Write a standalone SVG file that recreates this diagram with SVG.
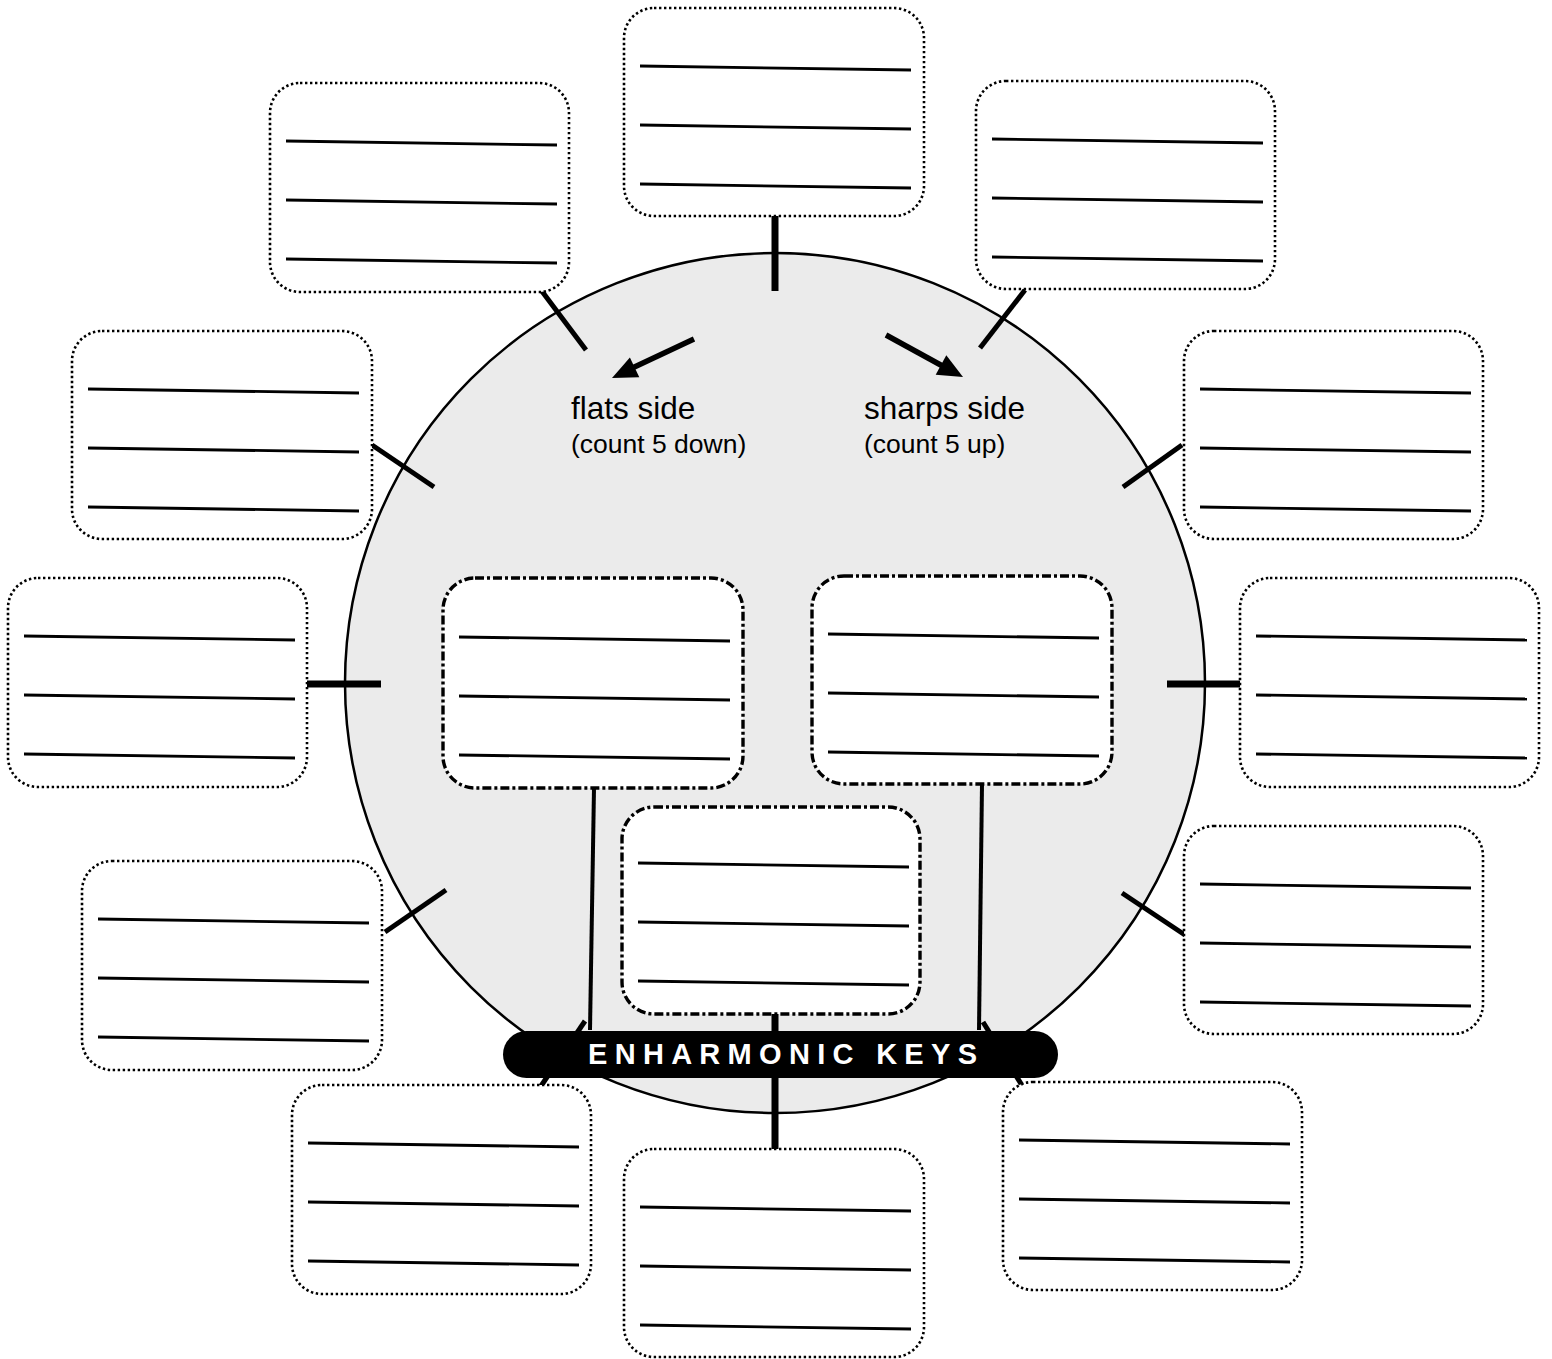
<svg xmlns="http://www.w3.org/2000/svg" width="1552" height="1359" viewBox="0 0 1552 1359">
<defs>
<style>
.box{fill:#fff;stroke:#000;stroke-width:2.6;stroke-dasharray:2.4 2.6;}
.inner{fill:#fff;stroke:#000;stroke-width:3.4;stroke-dasharray:9 3 3 3;}
.ln{stroke:#000;stroke-width:2.8;fill:none;}
.tick{stroke:#000;stroke-width:7;fill:none;}
.dtick{stroke:#000;stroke-width:5;fill:none;}
.conn{stroke:#000;stroke-width:4;fill:none;}
.arr{stroke:#000;stroke-width:5.5;fill:none;}
.t1{font-family:"Liberation Sans",Arial,sans-serif;font-size:31.5px;fill:#000;}
.t2{font-family:"Liberation Sans",Arial,sans-serif;font-size:26.5px;fill:#000;}
.pt{font-family:"Liberation Sans",Arial,sans-serif;font-size:29px;font-weight:bold;fill:#fff;letter-spacing:7.3px;}
</style>
<g id="lines3">
<line class="ln" x1="16" y1="58" x2="287" y2="62"/>
<line class="ln" x1="16" y1="117" x2="287" y2="121"/>
<line class="ln" x1="16" y1="176" x2="287" y2="180"/>
</g>
</defs>
<rect width="1552" height="1359" fill="#fff"/>
<g id="circle">
<circle cx="775" cy="683" r="430" fill="#ebebeb" stroke="#000" stroke-width="2.5"/>
</g>
<g id="connectors">
<line class="tick" x1="775" y1="216" x2="775" y2="291"/>
<line class="tick" x1="307" y1="684" x2="381" y2="684"/>
<line class="tick" x1="1167" y1="684" x2="1241" y2="684"/>
<line class="tick" x1="775" y1="1014" x2="775" y2="1152"/>
<line class="dtick" x1="541" y1="290" x2="586" y2="350"/>
<line class="dtick" x1="1025" y1="290" x2="980" y2="348"/>
<line class="dtick" x1="372" y1="445" x2="434" y2="487"/>
<line class="dtick" x1="1182" y1="445" x2="1123" y2="487"/>
<line class="dtick" x1="385" y1="932" x2="446" y2="890"/>
<line class="dtick" x1="1122" y1="893" x2="1185" y2="935"/>
<line class="dtick" x1="585" y1="1021" x2="541" y2="1086"/>
<line class="dtick" x1="983" y1="1022" x2="1023" y2="1087"/>
<line class="conn" x1="594" y1="788" x2="590" y2="1030"/>
<line class="conn" x1="982" y1="784" x2="979" y2="1030"/>
</g>
<g id="box-top" transform="translate(624,8)"><rect class="box" x="0" y="0" width="300" height="208" rx="30"/><use href="#lines3"/></g>
<g id="box-top-left" transform="translate(270,83)"><rect class="box" x="0" y="0" width="299" height="209" rx="30"/><use href="#lines3"/></g>
<g id="box-top-right" transform="translate(976,81)"><rect class="box" x="0" y="0" width="299" height="208" rx="30"/><use href="#lines3"/></g>
<g id="box-left-upper" transform="translate(72,331)"><rect class="box" x="0" y="0" width="300" height="208" rx="30"/><use href="#lines3"/></g>
<g id="box-right-upper" transform="translate(1184,331)"><rect class="box" x="0" y="0" width="299" height="208" rx="30"/><use href="#lines3"/></g>
<g id="box-left" transform="translate(8,578)"><rect class="box" x="0" y="0" width="299" height="209" rx="30"/><use href="#lines3"/></g>
<g id="box-right" transform="translate(1240,578)"><rect class="box" x="0" y="0" width="299" height="209" rx="30"/><use href="#lines3"/></g>
<g id="box-left-lower" transform="translate(82,861)"><rect class="box" x="0" y="0" width="300" height="209" rx="30"/><use href="#lines3"/></g>
<g id="box-right-lower" transform="translate(1184,826)"><rect class="box" x="0" y="0" width="299" height="208" rx="30"/><use href="#lines3"/></g>
<g id="box-bottom-left" transform="translate(292,1085)"><rect class="box" x="0" y="0" width="299" height="209" rx="30"/><use href="#lines3"/></g>
<g id="box-bottom" transform="translate(624,1149)"><rect class="box" x="0" y="0" width="300" height="208" rx="30"/><use href="#lines3"/></g>
<g id="box-bottom-right" transform="translate(1003,1082)"><rect class="box" x="0" y="0" width="299" height="208" rx="30"/><use href="#lines3"/></g>
<g id="inner-left" transform="translate(443,578)"><rect class="inner" x="0" y="0" width="300" height="210" rx="32"/><use href="#lines3" transform="translate(0,1)"/></g>
<g id="inner-right" transform="translate(812,576)"><rect class="inner" x="0" y="0" width="300" height="208" rx="32"/><use href="#lines3"/></g>
<g id="inner-center" transform="translate(622,807)"><rect class="inner" x="0" y="0" width="298" height="207" rx="32"/><use href="#lines3" transform="translate(0,-2)"/></g>
<g id="flats">
<line class="arr" x1="694" y1="339" x2="628" y2="370"/>
<polygon points="612,378 629.9,357.4 639.3,377.2" fill="#000"/>
<text class="t1" x="571" y="419">flats side</text>
<text class="t2" x="571" y="453">(count 5 down)</text>
</g>
<g id="sharps">
<line class="arr" x1="886" y1="335" x2="948" y2="369"/>
<polygon points="963,377 946.3,355.3 935.7,374.7" fill="#000"/>
<text class="t1" x="864" y="419">sharps side</text>
<text class="t2" x="864" y="453">(count 5 up)</text>
</g>
<g id="enharmonic-keys">
<rect x="503" y="1031" width="555" height="47" rx="23.5" fill="#000"/>
<text class="pt" x="588" y="1064">ENHARMONIC KEYS</text>
</g>
</svg>
